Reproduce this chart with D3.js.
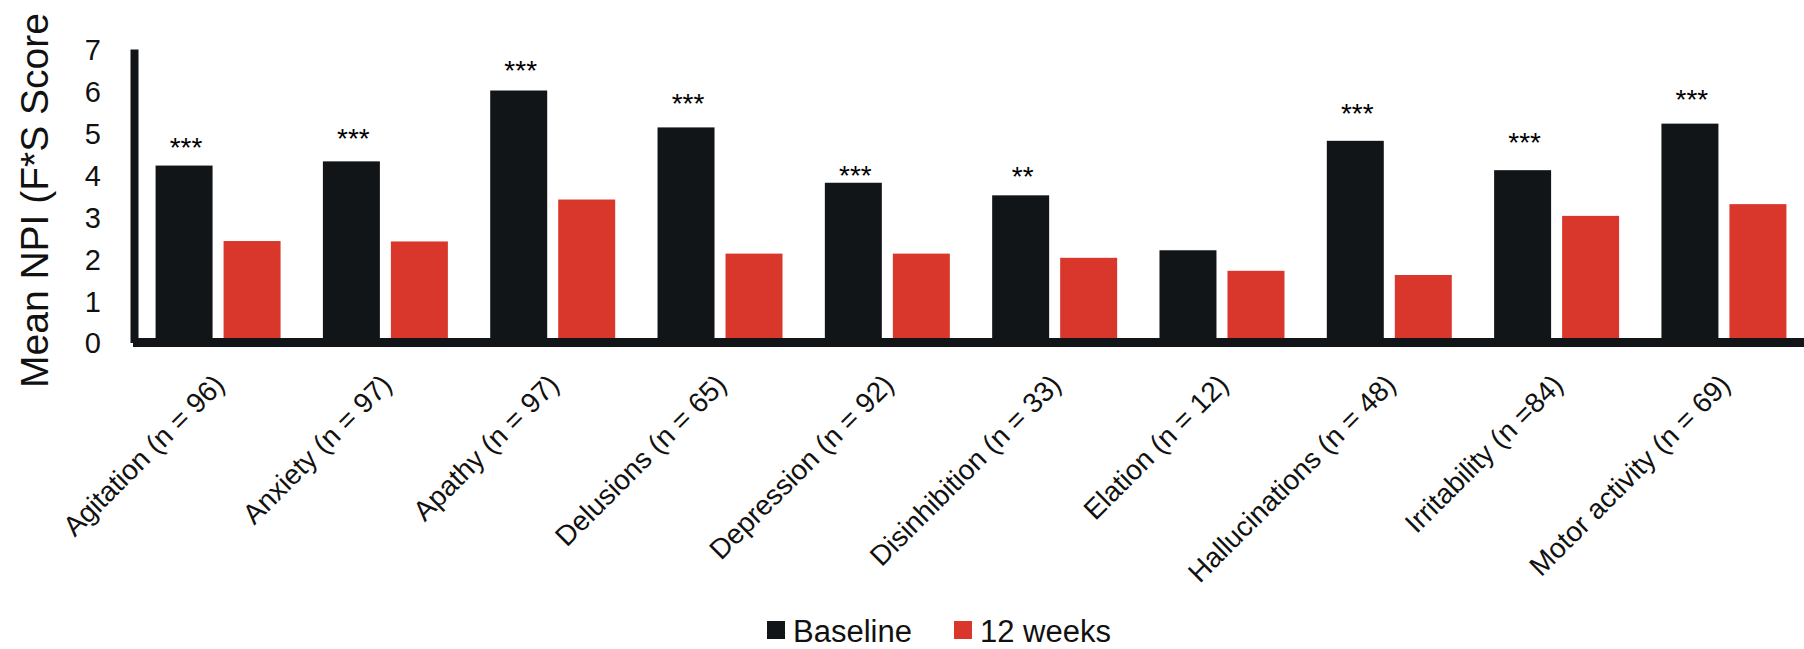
<!DOCTYPE html>
<html>
<head>
<meta charset="utf-8">
<script src="https://cdn.jsdelivr.net/npm/d3@7"></script>
<style>
  html, body { margin: 0; padding: 0; background: #ffffff; }
  svg { display: block; font-family: "Liberation Sans", Arial, sans-serif; }
</style>
</head>
<body>
<svg id="chart" width="1804" height="649"></svg>
<script>
const categories = ["Agitation (n = 96)", "Anxiety (n = 97)", "Apathy (n = 97)", "Delusions (n = 65)",
  "Depression (n = 92)", "Disinhibition (n = 33)", "Elation (n = 12)", "Hallucinations (n = 48)",
  "Irritability (n =84)", "Motor activity (n = 69)"];
const seriesNames = ["Baseline", "12 weeks"];
const baselineValues = [4.22, 4.32, 6.01, 5.13, 3.81, 3.51, 2.20, 4.81, 4.11, 5.22];
const week12Values = [2.42, 2.41, 3.41, 2.12, 2.12, 2.02, 1.71, 1.61, 3.02, 3.30];
const significance = ["***", "***", "***", "***", "***", "**", "", "***", "***", "***"];
const significanceAt = [4.83, 5.03, 6.66, 5.88, 4.15, 4.14, 0, 5.64, 4.95, 5.97];
const yTicks = [0, 1, 2, 3, 4, 5, 6, 7];
const yTitle = "Mean NPI (F*S Score";

const colors = { "Baseline": "#121518", "12 weeks": "#d9372c" };
const dark = "#121518";

const svg = d3.select("#chart");

const y = d3.scaleLinear().domain([0, 7]).range([342.5, 49]);
const x = d3.scaleBand().domain(categories).range([136, 1806]).paddingInner(0.253).paddingOuter(0.117);
const xs = d3.scaleBand().domain(seriesNames).range([0, x.bandwidth()]).paddingInner(0.162);

const rows = categories.map((c, i) => ({
  cat: c,
  vals: [
    { s: "Baseline", v: baselineValues[i] },
    { s: "12 weeks", v: week12Values[i] }
  ],
  sig: significance[i],
  sigAt: significanceAt[i]
}));

// bars
const g = svg.append("g");
const groups = g.selectAll("g.grp").data(rows).join("g")
  .attr("class", "grp")
  .attr("transform", d => `translate(${x(d.cat)},0)`);
groups.selectAll("rect").data(d => d.vals).join("rect")
  .attr("x", d => xs(d.s))
  .attr("width", xs.bandwidth())
  .attr("y", d => y(d.v))
  .attr("height", d => y(0) - y(d.v))
  .attr("fill", d => colors[d.s]);

// significance stars
groups.filter(d => d.sig).append("text")
  .attr("x", xs("Baseline") + xs.bandwidth() / 2 + 2)
  .attr("y", d => y(d.sigAt))
  .attr("dy", "0.6em")
  .attr("text-anchor", "middle")
  .attr("font-size", 28)
  .attr("fill", "#000")
  .text(d => d.sig);

// y axis
const yAxis = svg.append("g")
  .attr("transform", "translate(134,0)")
  .call(d3.axisLeft(y).tickValues(yTicks).tickFormat(d3.format("d")).tickSize(0).tickPadding(33));
yAxis.select(".domain").attr("stroke", dark).attr("stroke-width", 8);
yAxis.selectAll(".tick text")
  .attr("font-size", 29)
  .attr("font-family", "Liberation Sans, Arial, sans-serif")
  .attr("fill", "#111")
  .attr("dy", "0.36em");

// x axis
const xAxis = svg.append("g")
  .attr("transform", `translate(0,${y(0)})`)
  .call(d3.axisBottom(x).tickSize(0));
xAxis.select(".domain").remove();
xAxis.selectAll(".tick text")
  .attr("font-size", 28)
  .attr("font-family", "Liberation Sans, Arial, sans-serif")
  .attr("fill", "#111")
  .attr("text-anchor", "end")
  .attr("x", 0).attr("y", 0).attr("dy", 0)
  .attr("transform", "translate(8,44) rotate(-45)");
svg.append("line")
  .attr("x1", 133).attr("x2", 1804)
  .attr("y1", y(0)).attr("y2", y(0))
  .attr("stroke", dark).attr("stroke-width", 9);

// y title
svg.append("text")
  .attr("transform", `translate(48,200.5) rotate(-90)`)
  .attr("text-anchor", "middle")
  .attr("font-size", 39)
  .attr("fill", "#111")
  .text(yTitle);

// legend
const legendX = [767, 954];
const legend = svg.append("g");
seriesNames.forEach((s, i) => {
  legend.append("rect")
    .attr("x", legendX[i]).attr("y", 621)
    .attr("width", 18).attr("height", 18)
    .attr("fill", colors[s]);
  legend.append("text")
    .attr("x", legendX[i] + 26).attr("y", 642)
    .attr("font-size", 31)
    .attr("fill", "#111")
    .text(s);
});
</script>
</body>
</html>
